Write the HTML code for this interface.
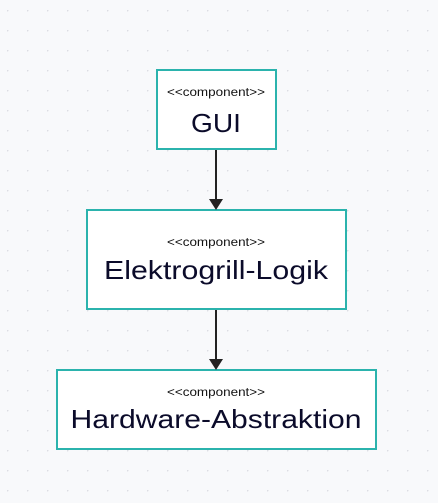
<!DOCTYPE html>
<html><head><style>
html,body{margin:0;padding:0;background:#f8f9fb;}
svg{display:block;}
text{font-family:"Liberation Sans","DejaVu Sans",sans-serif;fill:#0b0b2a;text-anchor:middle;}
.s{font-size:12px;fill:#111;}
.t{font-size:26px;}
</style></head><body>
<svg width="438" height="503" xmlns="http://www.w3.org/2000/svg">
<defs><pattern id="d" x="7" y="10" width="20" height="20" patternUnits="userSpaceOnUse"><circle cx="0.5" cy="0.5" r="1" fill="#dcdde3"/></pattern></defs>
<rect width="438" height="503" fill="#f8f9fb"/>
<rect width="438" height="503" fill="url(#d)"/>
<g stroke="#2bb3ad" stroke-width="2" fill="#fff">
<rect x="157" y="70" width="119" height="79"/>
<rect x="87" y="210" width="259" height="99"/>
<rect x="57" y="370" width="319" height="79"/>
</g>
<g stroke="#222" stroke-width="2">
<line x1="216" y1="150" x2="216" y2="200"/>
<line x1="216" y1="310" x2="216" y2="360"/>
</g>
<g fill="#222">
<polygon points="209,199 223,199 216,210"/>
<polygon points="209,359 223,359 216,370"/>
</g>
<text class="s" x="216" y="96" textLength="98" lengthAdjust="spacingAndGlyphs">&lt;&lt;component&gt;&gt;</text>
<text class="t" x="216" y="132" textLength="50" lengthAdjust="spacingAndGlyphs">GUI</text>
<text class="s" x="216" y="246" textLength="98" lengthAdjust="spacingAndGlyphs">&lt;&lt;component&gt;&gt;</text>
<text class="t" x="216" y="279" textLength="224" lengthAdjust="spacingAndGlyphs">Elektrogrill-Logik</text>
<text class="s" x="216" y="396" textLength="98" lengthAdjust="spacingAndGlyphs">&lt;&lt;component&gt;&gt;</text>
<text class="t" x="216" y="428" textLength="291" lengthAdjust="spacingAndGlyphs">Hardware-Abstraktion</text>
</svg>
</body></html>
